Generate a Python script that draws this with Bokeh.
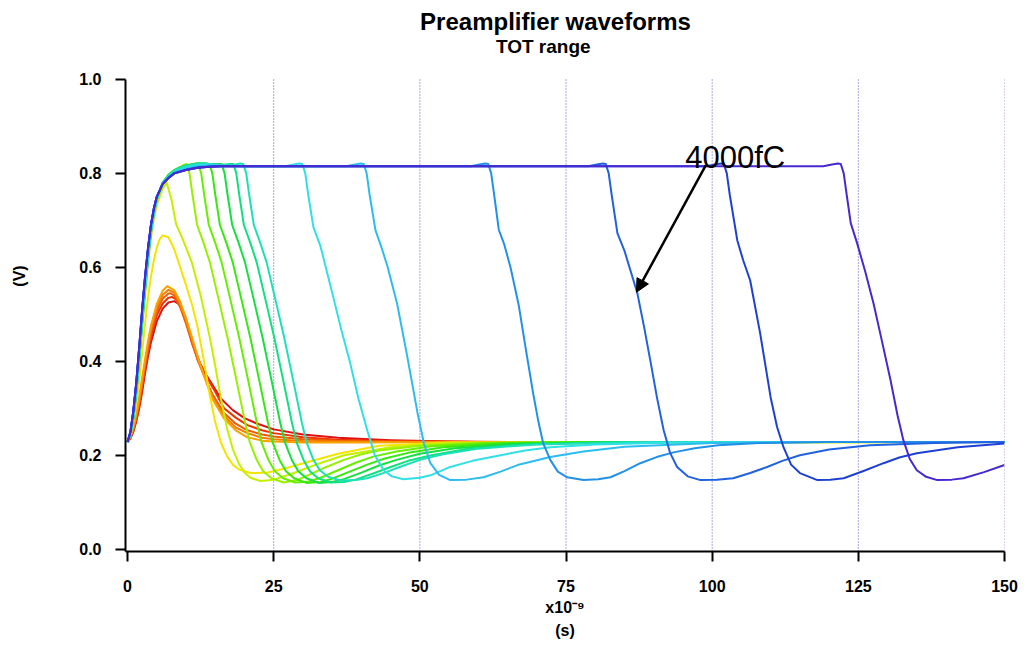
from bokeh.plotting import figure
from bokeh.models import (Range1d, FixedTicker, PrintfTickFormatter, Title, Arrow,
                          NormalHead, Label, ColumnDataSource)
from bokeh.embed import file_html
from bokeh.resources import INLINE

# ---------------- data (time in ns, voltage in V) ----------------
t_c01 = [0, 0.5, 1, 1.5, 2, 2.5, 3, 3.5, 4, 5, 6, 7, 8, 9, 10, 11, 12, 13, 14, 16, 18, 20, 22, 25, 30, 36, 45, 55, 70, 150]
v_c01 = [0.228, 0.236, 0.25, 0.272, 0.30, 0.335, 0.375, 0.41, 0.44, 0.485, 0.512, 0.525, 0.528, 0.52, 0.49, 0.44, 0.405, 0.38, 0.36, 0.32, 0.296, 0.279, 0.268, 0.255, 0.244, 0.237, 0.232, 0.229, 0.228, 0.228]

t_c02 = [0, 0.5, 1, 1.5, 2, 2.5, 3, 3.5, 4, 5, 6, 7, 7.6, 8.5, 9.5, 10.5, 11.5, 12.5, 13.5, 15, 16.5, 18.5, 20.5, 23, 25, 30, 36, 45, 60, 150]
v_c02 = [0.228, 0.237, 0.253, 0.277, 0.307, 0.345, 0.385, 0.42, 0.452, 0.498, 0.523, 0.535, 0.537, 0.53, 0.505, 0.465, 0.425, 0.393, 0.367, 0.335, 0.30, 0.28, 0.264, 0.253, 0.247, 0.238, 0.233, 0.23, 0.228, 0.228]

t_c03 = [0, 0.5, 1, 1.5, 2, 2.5, 3, 3.5, 4, 5, 6, 7, 7.3, 8, 9, 10, 11, 12, 13, 14.5, 16.5, 18.5, 20.5, 23, 25, 30, 36, 45, 60, 150]
v_c03 = [0.228, 0.238, 0.256, 0.281, 0.313, 0.352, 0.392, 0.428, 0.46, 0.507, 0.533, 0.544, 0.545, 0.54, 0.515, 0.48, 0.44, 0.402, 0.372, 0.33, 0.29, 0.267, 0.253, 0.244, 0.24, 0.234, 0.231, 0.229, 0.228, 0.228]

t_c04 = [0, 0.5, 1, 1.5, 2, 2.5, 3, 3.5, 4, 5, 6, 7, 8, 9, 10, 11, 12, 13, 14.5, 16.5, 18.5, 20.5, 23, 25, 30, 36, 45, 60, 150]
v_c04 = [0.228, 0.239, 0.258, 0.285, 0.318, 0.358, 0.398, 0.435, 0.467, 0.514, 0.541, 0.552, 0.546, 0.522, 0.487, 0.447, 0.407, 0.372, 0.325, 0.284, 0.259, 0.247, 0.237, 0.234, 0.23, 0.229, 0.228, 0.228, 0.228]

t_c05 = [0, 0.5, 1, 1.5, 2, 2.5, 3, 3.5, 4, 5, 6, 6.8, 8, 9, 10, 11, 12, 13, 14.5, 16.5, 18.5, 20.5, 23, 25, 30, 40, 60, 150]
v_c05 = [0.228, 0.24, 0.26, 0.289, 0.324, 0.365, 0.405, 0.443, 0.475, 0.522, 0.55, 0.56, 0.551, 0.527, 0.492, 0.452, 0.41, 0.372, 0.32, 0.278, 0.253, 0.238, 0.231, 0.229, 0.227, 0.227, 0.228, 0.228]

t_c06 = [0, 0.5, 1, 1.5, 2, 2.5, 3, 3.5, 4, 4.5, 5, 5.5, 6, 7, 8, 9, 10, 11, 12, 13, 14, 15, 16, 17, 18, 19, 21, 24, 27, 31, 36, 43, 55, 150]
v_c06 = [0.228, 0.243, 0.27, 0.31, 0.36, 0.42, 0.48, 0.535, 0.58, 0.615, 0.642, 0.66, 0.668, 0.664, 0.638, 0.6, 0.562, 0.522, 0.472, 0.405, 0.332, 0.27, 0.226, 0.198, 0.18, 0.17, 0.162, 0.163, 0.172, 0.186, 0.203, 0.22, 0.227, 0.228]

t_c07 = [0, 0.5, 1, 1.5, 2, 2.5, 3, 3.5, 4, 4.5, 5, 6, 6.7, 7.5, 8.3, 9.5, 11, 12.5, 14, 15, 16, 17, 18, 19, 20, 21, 22.7, 25, 28, 32, 37, 45, 55, 150]
v_c07 = [0.228, 0.246, 0.282, 0.334, 0.398, 0.472, 0.542, 0.607, 0.662, 0.703, 0.733, 0.768, 0.78, 0.745, 0.692, 0.658, 0.61, 0.54, 0.455, 0.39, 0.318, 0.258, 0.213, 0.183, 0.163, 0.152, 0.145, 0.148, 0.16, 0.179, 0.2, 0.217, 0.226, 0.228]

t_c08 = [0, 0.5, 1, 1.5, 2, 2.5, 3, 3.5, 4, 4.5, 5, 6, 7, 8, 9, 9.6, 10.1, 10.6, 11.1, 11.9, 13.0, 14.1, 15.8, 17.1, 18.7, 20.1, 20.9, 22.1, 23.2, 24.6, 26.7, 29, 31, 34, 37, 40, 43, 50, 60, 75, 150]
v_c08 = [0.228, 0.248, 0.288, 0.345, 0.415, 0.495, 0.565, 0.63, 0.683, 0.72, 0.748, 0.78, 0.797, 0.807, 0.813, 0.818, 0.82, 0.80, 0.755, 0.69, 0.652, 0.61, 0.52, 0.45, 0.355, 0.27, 0.228, 0.19, 0.166, 0.151, 0.142, 0.147, 0.158, 0.175, 0.19, 0.202, 0.21, 0.22, 0.226, 0.228, 0.228]

t_c09 = [0, 0.5, 1, 1.5, 2, 2.5, 3, 3.5, 4, 4.5, 5, 6, 7, 8, 9, 10, 11, 11.6, 12.1, 12.6, 13.1, 13.9, 15.0, 16.1, 17.8, 19.1, 20.7, 22.1, 22.9, 24.1, 25.2, 26.6, 28.7, 31, 33, 36, 39, 42, 46, 52, 62, 80, 150]
v_c09 = [0.228, 0.247, 0.286, 0.343, 0.413, 0.493, 0.563, 0.628, 0.682, 0.72, 0.748, 0.78, 0.797, 0.807, 0.813, 0.817, 0.819, 0.821, 0.82, 0.80, 0.755, 0.69, 0.652, 0.61, 0.52, 0.45, 0.355, 0.27, 0.228, 0.19, 0.166, 0.151, 0.142, 0.144, 0.152, 0.168, 0.184, 0.197, 0.208, 0.219, 0.226, 0.228, 0.228]

t_c10 = [0, 0.5, 1, 1.5, 2, 2.5, 3, 3.5, 4, 4.5, 5, 6, 7, 8, 9, 10, 11, 12, 13, 14, 14.5, 15.0, 15.8, 16.9, 18.0, 19.7, 21.0, 22.6, 24.0, 24.8, 26.0, 27.1, 28.5, 30.6, 33, 35, 38, 41, 44, 48, 54, 64, 80, 150]
v_c10 = [0.228, 0.246, 0.284, 0.34, 0.41, 0.49, 0.56, 0.625, 0.68, 0.718, 0.747, 0.78, 0.797, 0.807, 0.813, 0.817, 0.819, 0.821, 0.821, 0.82, 0.80, 0.755, 0.69, 0.652, 0.61, 0.52, 0.45, 0.355, 0.27, 0.228, 0.19, 0.166, 0.151, 0.141, 0.143, 0.15, 0.165, 0.18, 0.193, 0.205, 0.217, 0.225, 0.228, 0.228]

t_c11 = [0, 0.5, 1, 1.5, 2, 2.5, 3, 3.5, 4, 4.5, 5, 6, 7, 8, 9, 10, 11, 12, 13, 14, 15.5, 16.1, 16.6, 17.1, 17.9, 19.0, 20.1, 21.8, 23.1, 24.7, 26.1, 26.9, 28.1, 29.2, 30.6, 32.7, 35, 37, 40, 43, 46, 50, 56, 66, 85, 150]
v_c11 = [0.228, 0.245, 0.282, 0.337, 0.406, 0.486, 0.556, 0.622, 0.678, 0.717, 0.746, 0.779, 0.796, 0.806, 0.812, 0.816, 0.819, 0.821, 0.821, 0.82, 0.82, 0.82, 0.80, 0.755, 0.69, 0.652, 0.61, 0.52, 0.45, 0.355, 0.27, 0.228, 0.19, 0.166, 0.151, 0.141, 0.143, 0.149, 0.163, 0.178, 0.19, 0.203, 0.215, 0.224, 0.228, 0.228]

t_c12 = [0, 0.5, 1, 1.5, 2, 2.5, 3, 3.5, 4, 4.5, 5, 6, 7, 8, 9, 10, 11, 12, 13, 14, 16, 17.5, 18.1, 18.6, 19.1, 19.9, 21.0, 22.1, 23.8, 25.1, 26.7, 28.1, 28.9, 30.1, 31.2, 32.6, 34.7, 37, 39, 42, 45, 48, 52, 58, 68, 85, 150]
v_c12 = [0.228, 0.244, 0.28, 0.334, 0.402, 0.482, 0.552, 0.618, 0.675, 0.715, 0.745, 0.779, 0.796, 0.806, 0.812, 0.816, 0.819, 0.821, 0.821, 0.82, 0.818, 0.82, 0.82, 0.80, 0.755, 0.69, 0.652, 0.61, 0.52, 0.45, 0.355, 0.27, 0.228, 0.19, 0.166, 0.151, 0.142, 0.143, 0.148, 0.161, 0.175, 0.188, 0.2, 0.213, 0.223, 0.228, 0.228]

t_c13 = [0, 0.5, 1, 1.5, 2, 2.5, 3, 3.5, 4, 4.5, 5, 6, 7, 8, 9, 10, 11, 12, 13, 14, 16, 18, 19.3, 19.8, 20.3, 20.8, 21.6, 22.7, 23.8, 25.5, 26.8, 28.4, 29.8, 30.6, 31.8, 32.9, 34.3, 36.4, 39, 41, 44, 47, 50, 54, 60, 70, 90, 150]
v_c13 = [0.228, 0.243, 0.278, 0.331, 0.399, 0.478, 0.549, 0.615, 0.673, 0.713, 0.744, 0.778, 0.795, 0.805, 0.811, 0.815, 0.818, 0.82, 0.821, 0.82, 0.818, 0.818, 0.821, 0.82, 0.80, 0.755, 0.69, 0.652, 0.61, 0.52, 0.45, 0.355, 0.27, 0.228, 0.19, 0.168, 0.154, 0.146, 0.147, 0.151, 0.163, 0.177, 0.19, 0.202, 0.214, 0.223, 0.228, 0.228]

t_c14 = [0, 0.5, 1, 1.5, 2, 2.5, 3, 3.5, 4, 4.5, 5, 6, 7, 8, 10, 12, 14, 16, 20, 27, 28.4, 29.4, 29.9, 30.4, 30.9, 31.8, 33, 35.2, 36.5, 38.1, 39.5, 41, 42.3, 43.8, 45.2, 47.2, 50, 52, 55.2, 59, 63.8, 68, 72.3, 80, 90, 110, 150]
v_c14 = [0.228, 0.249, 0.292, 0.35, 0.423, 0.503, 0.573, 0.636, 0.687, 0.723, 0.75, 0.779, 0.794, 0.804, 0.812, 0.818, 0.819, 0.817, 0.815, 0.815, 0.819, 0.821, 0.82, 0.80, 0.755, 0.685, 0.645, 0.536, 0.47, 0.395, 0.32, 0.253, 0.2, 0.168, 0.155, 0.149, 0.152, 0.158, 0.175, 0.188, 0.2, 0.21, 0.217, 0.223, 0.226, 0.228, 0.228]

t_c15 = [0, 0.5, 1, 1.5, 2, 2.5, 3, 3.5, 4, 4.5, 5, 6, 7, 8, 10, 12, 14, 16, 25, 37.4, 38.9, 39.9, 40.4, 40.9, 41.4, 42.4, 43.5, 44.5, 46.1, 47.7, 49.6, 50.7, 51.8, 53.3, 55.2, 58, 60.9, 63.8, 66.7, 72.3, 78, 85, 100, 120, 150]
v_c15 = [0.228, 0.25, 0.293, 0.352, 0.426, 0.506, 0.576, 0.638, 0.688, 0.724, 0.75, 0.778, 0.792, 0.802, 0.81, 0.815, 0.817, 0.816, 0.815, 0.815, 0.819, 0.821, 0.82, 0.80, 0.755, 0.679, 0.64, 0.60, 0.523, 0.42, 0.29, 0.225, 0.183, 0.158, 0.147, 0.148, 0.153, 0.165, 0.179, 0.196, 0.208, 0.218, 0.226, 0.228, 0.228]

t_c16 = [0, 0.5, 1, 1.5, 2, 2.5, 3, 3.5, 4, 4.5, 5, 6, 7, 8, 10, 12, 14, 16, 30, 58.7, 60.2, 61.2, 61.7, 62.2, 62.7, 63.5, 64.4, 65.5, 66.9, 68.2, 69.4, 70.3, 71.1, 72.3, 73.6, 75.2, 78, 80.5, 82.6, 85, 87.7, 90.5, 93.4, 97, 101, 108, 120, 150]
v_c16 = [0.228, 0.25, 0.294, 0.353, 0.428, 0.508, 0.578, 0.639, 0.689, 0.724, 0.75, 0.777, 0.791, 0.801, 0.808, 0.813, 0.815, 0.815, 0.815, 0.815, 0.819, 0.821, 0.82, 0.80, 0.755, 0.68, 0.65, 0.60, 0.52, 0.42, 0.33, 0.27, 0.225, 0.19, 0.165, 0.153, 0.147, 0.149, 0.153, 0.166, 0.183, 0.196, 0.206, 0.215, 0.221, 0.226, 0.228, 0.228]

t_c17 = [0, 0.5, 1, 1.5, 2, 2.5, 3, 3.5, 4, 4.5, 5, 6, 7, 8, 10, 12, 14, 16, 40, 78.8, 80.3, 81.3, 81.8, 82.3, 82.8, 83.8, 85, 87.2, 88.4, 89.5, 90.6, 91.7, 92.8, 94, 95.8, 98, 100.8, 103.6, 106.5, 109.4, 112, 115, 120, 127, 138, 150]
v_c17 = [0.228, 0.25, 0.295, 0.354, 0.429, 0.509, 0.579, 0.64, 0.69, 0.725, 0.75, 0.777, 0.79, 0.8, 0.807, 0.812, 0.814, 0.815, 0.815, 0.815, 0.819, 0.821, 0.82, 0.80, 0.755, 0.672, 0.635, 0.545, 0.47, 0.396, 0.32, 0.253, 0.205, 0.175, 0.155, 0.147, 0.148, 0.151, 0.162, 0.175, 0.188, 0.2, 0.212, 0.221, 0.226, 0.228]

t_c18 = [0, 0.5, 1, 1.5, 2, 2.5, 3, 3.5, 4, 4.5, 5, 6, 7, 8, 10, 12, 14, 16, 50, 99, 100.5, 101.5, 102, 102.5, 103, 104.3, 105.3, 106.5, 108.2, 110, 111.1, 112.2, 113.5, 115, 118, 120.2, 122.5, 126, 129.3, 132, 135, 142, 150]
v_c18 = [0.228, 0.25, 0.295, 0.355, 0.43, 0.51, 0.58, 0.64, 0.69, 0.725, 0.75, 0.777, 0.79, 0.8, 0.807, 0.812, 0.814, 0.815, 0.815, 0.815, 0.819, 0.821, 0.82, 0.80, 0.755, 0.657, 0.615, 0.572, 0.46, 0.323, 0.26, 0.217, 0.18, 0.162, 0.147, 0.148, 0.151, 0.167, 0.183, 0.195, 0.204, 0.217, 0.225]

t_c19 = [0, 0.5, 1, 1.5, 2, 2.5, 3, 3.5, 4, 4.5, 5, 6, 7, 8, 10, 12, 14, 16, 60, 119, 120.5, 121.5, 122, 122.5, 123, 123.7, 124.8, 126.2, 127.6, 129, 130.5, 131.7, 132.7, 133.8, 135, 136.6, 138.5, 141, 143, 146.5, 150]
v_c19 = [0.228, 0.25, 0.296, 0.357, 0.432, 0.512, 0.582, 0.642, 0.691, 0.726, 0.75, 0.777, 0.79, 0.8, 0.807, 0.812, 0.814, 0.815, 0.815, 0.815, 0.819, 0.821, 0.82, 0.80, 0.755, 0.694, 0.651, 0.59, 0.523, 0.445, 0.36, 0.285, 0.232, 0.192, 0.168, 0.154, 0.147, 0.148, 0.151, 0.164, 0.179]

curve_colors = ["#e01010", "#f03200", "#f05a00", "#f57c00", "#f8a200", "#f4e400", "#c4f000",
                "#98f000", "#68ee00", "#38e810", "#14e040", "#10e080", "#1ee0b8", "#30e0e4",
                "#2cbcf0", "#2290e8", "#2262e0", "#2040d4", "#4828d0"]

x_ticks = [0, 25, 50, 75, 100, 125, 150]
y_ticks = [0.0, 0.2, 0.4, 0.6, 0.8, 1.0]
grid_ticks = [25, 50, 75, 100, 125, 150]

# axis extents (the frame extends above 1.0 V so that the titles can sit inside it)
x_lo, x_hi = -0.35, 150
y_lo, y_axis_top, y_hi = -0.005, 1.0, 1.168

title_text = "Preamplifier waveforms"
subtitle_text = "TOT range"
title_x, title_y = 73.2, 1.123
subtitle_x, subtitle_y = 71.1, 1.070

note_text = "4000fC"
note_x, note_y = 95.4, 0.834
arrow_x0, arrow_y0 = 98.9, 0.817
arrow_x1, arrow_y1 = 87.05, 0.547

# ---------------- figure ----------------
FONT = "Liberation Sans"

p = figure(width=1025, height=646, output_backend="svg", toolbar_location=None,
           title_location=None,
           x_range=Range1d(x_lo, x_hi), y_range=Range1d(y_lo, y_hi),
           min_border_left=125, min_border_right=21, min_border_top=0, min_border_bottom=95,
           background_fill_color="white", border_fill_color="white")
p.outline_line_color = None
p.xgrid.visible = False
p.ygrid.visible = False

# dotted vertical grid lines, 0 .. 1 V
p.segment(x0=grid_ticks, y0=[y_lo] * len(grid_ticks), x1=grid_ticks,
          y1=[y_axis_top] * len(grid_ticks), line_color="#5050d0", line_width=1,
          line_dash="1 2")

for ax in (p.xaxis[0], p.yaxis[0]):
    ax.axis_line_width = 2
    ax.axis_line_color = "black"
    ax.major_tick_line_width = 2
    ax.major_tick_line_color = "black"
    ax.major_tick_out = 10
    ax.major_tick_in = 0
    ax.minor_tick_line_color = None
    ax.major_label_text_font = FONT
    ax.major_label_text_font_style = "bold"
    ax.major_label_text_font_size = "16px"
    ax.major_label_text_color = "black"
    ax.axis_label_text_font = FONT
    ax.axis_label_text_font_style = "bold"
    ax.axis_label_text_font_size = "16px"
    ax.axis_label_text_color = "black"

p.xaxis.ticker = FixedTicker(ticks=x_ticks)
p.yaxis.ticker = FixedTicker(ticks=y_ticks)
p.yaxis.bounds = (y_lo, y_axis_top)
p.yaxis.formatter = PrintfTickFormatter(format="%.1f")
p.xaxis.major_label_standoff = 18
p.yaxis.major_label_standoff = 14
p.yaxis.axis_label = "(V)"
p.yaxis.axis_label_standoff = 48
p.xaxis.axis_label = "x10\u207b\u2079"
p.xaxis.axis_label_standoff = 4

p.add_layout(Title(text="(s)", align="center", text_font=FONT, text_font_style="bold",
                   text_font_size="16px", text_color="black", standoff=3), "below")

p.add_layout(Label(x=title_x, y=title_y, text=title_text, text_font=FONT, text_font_style="bold",
                   text_font_size="24px", text_color="black", text_align="center",
                   text_baseline="middle"))
p.add_layout(Label(x=subtitle_x, y=subtitle_y, text=subtitle_text, text_font=FONT,
                   text_font_style="bold", text_font_size="19px", text_color="black",
                   text_align="center", text_baseline="middle"))

curves = [(t_c01, v_c01), (t_c02, v_c02), (t_c03, v_c03), (t_c04, v_c04), (t_c05, v_c05),
          (t_c06, v_c06), (t_c07, v_c07), (t_c08, v_c08), (t_c09, v_c09), (t_c10, v_c10),
          (t_c11, v_c11), (t_c12, v_c12), (t_c13, v_c13), (t_c14, v_c14), (t_c15, v_c15),
          (t_c16, v_c16), (t_c17, v_c17), (t_c18, v_c18), (t_c19, v_c19)]

for (tt, vv), col in zip(curves, curve_colors):
    src = ColumnDataSource(dict(t=tt, v=vv))
    p.line("t", "v", source=src, line_color=col, line_width=2, line_join="round")

p.add_layout(Label(x=note_x, y=note_y, text=note_text, text_font=FONT,
                   text_font_size="31px", text_color="black", text_baseline="alphabetic"))
p.add_layout(Arrow(end=NormalHead(size=13, fill_color="black", line_color="black"),
                   x_start=arrow_x0, y_start=arrow_y0, x_end=arrow_x1, y_end=arrow_y1,
                   line_width=2.5, line_color="black"))

open("out.html", "w").write(file_html(p, INLINE, "Preamplifier waveforms"))
